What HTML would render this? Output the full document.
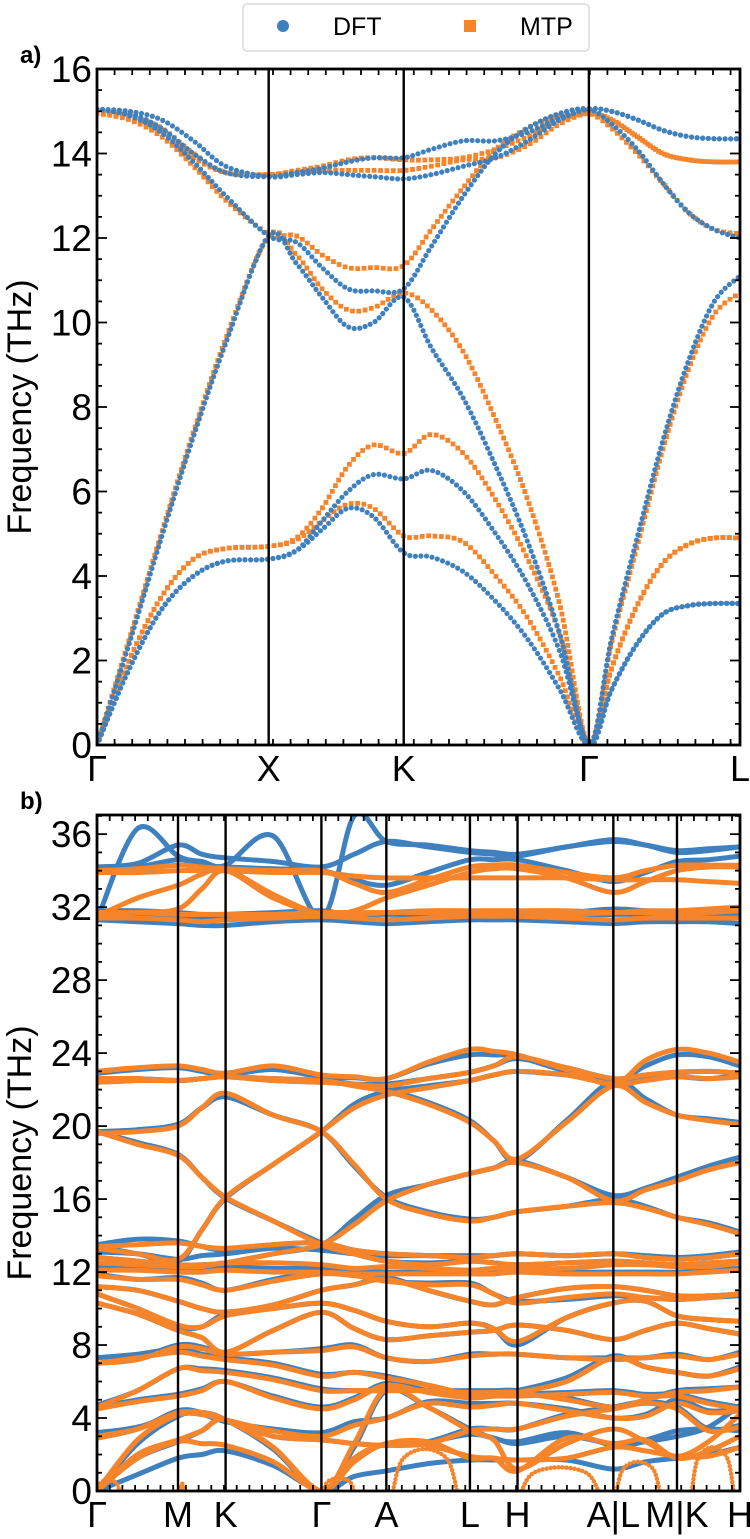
<!DOCTYPE html>
<html><head><meta charset="utf-8">
<style>
html,body{margin:0;padding:0;background:#fff;}
svg{display:block;font-family:"Liberation Sans",Arial,sans-serif;}
</style></head>
<body>
<svg id="chart" width="750" height="1539" viewBox="0 0 750 1539" xmlns="http://www.w3.org/2000/svg">
  <g>
    <rect x="243" y="4" width="346" height="47" rx="4" fill="#fff" stroke="#d0d0d0" stroke-width="1.2"/>
    <circle cx="283" cy="26" r="6" fill="#3f80bf"/>
    <text x="333" y="35" font-size="25">DFT</text>
    <rect x="464" y="20" width="12" height="12" fill="#f5842a"/>
    <text x="520" y="35" font-size="25">MTP</text>
  </g>
  <g id="panelA"></g>
  <g id="panelB"></g>
</svg>
<script>
// ---------- Panel a data ----------
const kA = [0,.05,.1,.15,.2,.267, .31,.35,.39,.43,.477, .52,.57,.62,.67,.72,.765, .8,.84,.88,.92,.96,1];
const labelsA = ["Γ","X","K","Γ","L"];
const labelPosA = [0,.267,.477,.765,1];
const yTicksA = [0,2,4,6,8,10,12,14,16];
const dftA = [
 [0,1.8,3.2,4.0,4.35,4.4, 4.6,5.1,5.6,5.4,4.55, 4.45,4.1,3.4,2.5,1.3,0, 1.3,2.4,3.1,3.3,3.35,3.35],
 [0,1.8,3.2,4.0,4.35,4.4, 4.6,5.3,6.0,6.4,6.3, 6.5,6.0,5.0,3.8,2.2,0, 1.3,2.4,3.1,3.3,3.35,3.35],
 [0,2.4,4.9,7.3,9.5,12.05, 11.4,10.6,9.9,10.0,10.6, 9.4,8.2,6.6,4.8,2.6,0, 2.5,4.9,7.2,9.1,10.5,11.1],
 [15.05,14.9,14.5,13.8,13.0,12.05, 11.9,11.3,10.8,10.75,10.8, 11.8,13.0,14.0,14.6,14.95,15.05, 14.7,14.1,13.3,12.6,12.2,12.0],
 [15.05,15.0,14.8,14.3,13.7,13.45, 13.5,13.55,13.5,13.45,13.4, 13.5,13.7,13.9,14.3,14.8,15.05, 15.0,14.8,14.55,14.4,14.35,14.35],
 [15.05,14.95,14.6,14.0,13.55,13.45, 13.55,13.65,13.8,13.9,13.9, 14.1,14.3,14.3,14.5,14.85,15.05, 15.0,14.8,14.55,14.4,14.35,14.35]
];
const mtpA = [
 [0,2.0,3.5,4.4,4.65,4.7, 4.85,5.3,5.7,5.6,4.95, 4.95,4.8,4.0,3.0,1.6,0, 1.8,3.3,4.3,4.75,4.9,4.9],
 [0,2.0,3.5,4.4,4.65,4.7, 4.9,5.6,6.6,7.1,6.9, 7.35,6.9,5.8,4.4,2.6,0, 1.8,3.3,4.3,4.75,4.9,4.9],
 [0,2.5,5.0,7.4,9.6,12.05, 11.6,10.8,10.3,10.35,10.7, 10.3,9.3,7.7,5.8,3.3,0, 2.4,4.7,7.0,8.9,10.2,10.7],
 [14.95,14.8,14.4,13.7,12.9,12.1, 12.05,11.6,11.3,11.3,11.35, 12.2,13.2,14.1,14.6,14.9,14.95, 14.6,14.0,13.3,12.6,12.2,12.1],
 [14.95,14.9,14.6,14.0,13.55,13.5, 13.55,13.6,13.6,13.6,13.6, 13.7,13.85,13.9,14.2,14.7,14.95, 14.8,14.4,14.0,13.85,13.8,13.8],
 [14.95,14.85,14.5,13.9,13.55,13.5, 13.6,13.7,13.85,13.9,13.85, 13.85,13.9,14.1,14.4,14.8,14.95, 14.8,14.4,14.0,13.85,13.8,13.8]
];

// ---------- Panel b data ----------
const kB = [0,.063,.126,.163,.2,.274,.349,.40,.45,.515,.58,.617,.654,.73,.803,.853,.902,.951,1];
const labelsB = ["Γ","M","K","Γ","A","L","H","A|L","M|K","H"];
const labelPosB = [0,.126,.2,.349,.45,.58,.654,.803,.902,1];
const yTicksB = [0,4,8,12,16,20,24,28,32,36];
const dftB = [
 [31.3,31.2,31.1,31.0,31.0,31.2,31.3,31.2,31.1,31.2,31.3,31.3,31.3,31.2,31.1,31.2,31.2,31.2,31.1],
 [31.6,31.6,31.5,31.4,31.4,31.5,31.6,31.6,31.6,31.6,31.5,31.5,31.5,31.5,31.6,31.6,31.5,31.5,31.6],
 [31.8,31.8,31.7,31.6,31.6,31.7,31.8,31.5,31.3,31.5,31.6,31.6,31.6,31.7,31.9,31.8,31.7,31.8,31.9],
 [31.3,36.3,34.8,34.5,34.3,35.9,31.4,37.0,35.6,35.4,35.1,35.0,34.9,35.3,35.7,35.4,35.0,35.1,35.3],
 [34.2,34.4,35.4,34.9,34.7,34.5,34.2,34.9,35.6,35.3,35.0,34.9,34.8,35.3,35.6,35.4,35.1,35.2,35.3],
 [34.0,34.2,34.6,34.3,34.2,34.1,34.0,33.5,33.2,33.9,34.6,34.6,34.6,34.0,33.4,33.9,34.5,34.6,34.8],
 [22.9,23.1,23.2,23.0,22.8,23.1,22.7,22.65,22.6,23.4,23.9,23.9,23.8,23.0,22.4,23.3,23.9,23.8,23.3],
 [22.4,22.5,22.5,22.6,22.7,22.5,22.4,22.3,22.3,22.6,22.95,23.3,23.7,23.2,22.6,22.8,22.95,23.0,22.9],
 [22.6,22.6,22.5,22.6,22.7,22.6,22.5,22.3,22.0,21.3,20.3,19.2,18.1,20.3,22.5,21.5,20.6,20.4,20.2],
 [19.7,19.8,20.1,21.0,21.6,20.6,19.7,17.8,16.1,15.3,14.9,15.0,15.3,15.6,16.0,15.6,15.0,14.7,14.2],
 [19.7,19.1,18.45,17.2,16.05,14.8,13.6,13.0,12.6,12.5,12.6,12.5,12.4,12.5,12.6,12.5,12.4,12.5,12.6],
 [13.4,13.0,12.6,14.3,16.05,17.9,19.7,21.2,21.9,22.2,22.5,22.8,23.0,22.8,22.5,22.6,22.7,22.6,22.8],
 [12.8,12.6,12.4,12.4,12.5,13.0,13.5,14.9,16.2,16.8,17.4,17.7,18.1,17.2,16.2,16.6,17.2,17.8,18.3],
 [13.5,13.8,13.7,13.4,13.2,13.5,13.6,13.2,13.0,12.9,12.8,12.9,13.0,12.9,13.0,12.8,12.7,12.8,13.0],
 [13.1,13.0,12.7,12.9,13.0,13.3,13.2,13.0,12.9,12.9,12.9,12.9,13.0,12.9,13.0,12.9,12.8,12.9,13.1],
 [12.3,12.3,12.2,12.2,12.3,12.2,12.2,12.1,12.0,12.0,12.0,12.0,12.1,12.0,12.0,12.0,12.0,12.1,12.2],
 [11.9,11.6,11.7,11.4,11.0,11.6,12.0,11.9,11.5,11.4,11.4,10.8,10.4,10.5,10.7,10.6,10.5,10.6,10.7],
 [11.2,11.0,10.4,10.0,9.8,10.2,11.0,11.3,11.7,11.0,10.4,10.2,10.6,11.1,11.2,11.0,10.7,10.7,10.8],
 [10.8,10.0,9.0,9.0,9.7,10.0,10.3,9.9,9.3,9.0,9.2,8.9,8.0,9.5,10.3,10.4,9.6,9.4,9.3],
 [10.3,9.7,8.8,8.4,7.6,8.8,9.8,8.9,8.3,8.5,8.7,8.8,9.1,8.8,8.3,8.8,9.2,8.9,8.6],
 [7.0,7.3,8.0,7.9,7.5,7.6,7.8,8.0,7.3,7.1,7.5,7.5,7.5,7.3,7.3,7.3,7.5,7.2,7.6],
 [7.3,7.5,7.8,7.5,7.3,7.0,6.4,6.5,6.3,5.8,5.3,5.3,5.5,6.2,7.4,6.8,6.5,6.3,6.8],
 [4.7,5.5,6.7,6.7,6.6,6.2,5.6,5.5,5.5,5.5,5.5,5.5,5.5,5.1,4.6,5.0,5.5,5.6,5.7],
 [4.6,5.0,5.3,5.6,6.0,5.2,4.6,5.1,5.9,5.5,5.2,5.2,5.3,5.4,5.5,5.3,5.3,4.9,4.6],
 [3.2,3.5,4.2,4.2,3.8,3.4,3.2,3.8,4.0,4.9,4.8,4.8,4.8,4.5,4.0,4.2,5.0,4.4,4.5],
 [2.9,3.4,4.4,4.3,3.9,3.0,2.8,2.6,2.5,2.7,3.4,3.4,3.4,4.2,4.6,4.9,4.6,3.4,3.6],
 [0,2.6,4.1,4.3,3.9,2.3,0,2.4,5.5,4.6,3.4,2.9,2.7,3.2,2.5,2.7,3.0,3.5,4.7],
 [0,1.8,2.7,3.3,3.9,2.3,0,1.7,2.6,2.7,3.1,2.9,2.6,3.0,2.6,2.8,3.3,3.4,3.3],
 [0,0.9,1.8,2.0,2.2,1.4,0,0.8,1.1,1.5,1.7,1.7,1.7,1.7,1.2,1.6,1.8,2.0,2.4]
];
const mtpB = [
 [31.4,31.4,31.3,31.2,31.3,31.4,31.5,31.4,31.3,31.4,31.5,31.5,31.5,31.4,31.3,31.4,31.4,31.4,31.4],
 [31.7,31.7,31.6,31.6,31.6,31.6,31.7,31.7,31.7,31.7,31.6,31.6,31.6,31.6,31.7,31.7,31.6,31.7,31.8],
 [34.0,34.1,34.3,34.2,34.1,34.0,34.0,33.3,32.8,33.5,34.2,34.3,34.3,33.9,33.6,34.0,34.3,34.3,34.3],
 [33.9,33.9,34.0,34.0,34.0,33.9,33.9,33.7,33.6,33.6,33.6,33.6,33.6,33.6,33.5,33.5,33.5,33.4,33.3],
 [31.5,32.5,33.2,33.8,34.1,32.7,31.6,31.8,32.5,33.2,33.9,34.1,34.1,33.6,32.8,33.4,34.0,34.2,34.2],
 [31.6,31.7,31.9,33.0,34.0,32.5,31.6,31.6,31.7,31.8,31.8,31.8,31.8,31.8,31.7,31.8,31.8,31.9,32.0],
 [23.0,23.2,23.3,23.1,22.9,23.3,22.8,22.7,22.6,23.5,24.2,24.1,23.9,23.1,22.3,23.6,24.2,24.0,23.5],
 [22.4,22.5,22.5,22.6,22.7,22.5,22.4,22.3,22.2,22.6,22.95,23.3,23.8,23.2,22.6,22.8,22.95,23.0,22.9],
 [22.6,22.6,22.5,22.6,22.7,22.6,22.5,22.2,21.9,21.2,20.2,19.2,18.2,20.2,22.2,21.3,20.6,20.3,20.1],
 [19.6,19.7,20.0,21.0,21.8,20.6,19.7,17.9,16.0,15.2,14.8,15.0,15.3,15.6,15.8,15.5,15.0,14.6,14.1],
 [19.7,19.0,18.4,17.2,16.1,14.8,13.5,13.0,12.6,12.4,12.6,12.5,12.4,12.5,12.6,12.5,12.4,12.5,12.6],
 [13.3,13.0,12.7,14.3,16.1,17.9,19.7,21.0,21.7,22.1,22.5,22.8,23.0,22.8,22.3,22.5,22.7,22.6,22.7],
 [12.8,12.6,12.4,12.4,12.5,13.0,13.5,14.6,15.9,16.8,17.4,17.7,18.0,17.2,15.9,16.5,17.0,17.6,18.0],
 [13.4,13.5,13.6,13.4,13.3,13.5,13.6,13.2,13.0,12.9,12.8,12.9,13.0,12.9,13.0,12.8,12.7,12.8,13.0],
 [12.5,12.4,12.3,12.3,12.5,12.5,12.4,12.2,12.3,12.2,12.1,12.2,12.2,12.2,12.4,12.4,12.3,12.3,12.5],
 [12.1,12.1,12.0,12.0,12.1,12.0,12.0,11.9,11.9,11.9,11.9,11.9,12.0,11.9,11.9,11.9,11.9,12.0,12.1],
 [11.8,11.6,11.6,11.3,11.0,11.5,11.9,11.8,11.5,11.3,11.3,10.8,10.3,10.6,10.8,10.6,10.5,10.6,10.8],
 [11.2,11.0,10.4,10.0,9.8,10.2,11.0,11.3,11.6,11.0,10.4,10.2,10.6,11.1,11.2,11.0,10.7,10.7,10.8],
 [10.8,10.0,9.1,9.0,9.6,10.0,10.3,9.9,9.3,9.0,9.2,8.9,8.2,9.5,10.3,10.4,9.6,9.4,9.3],
 [10.3,9.7,8.8,8.4,7.6,8.8,9.8,8.9,8.3,8.5,8.7,8.8,9.1,8.8,8.3,8.8,9.2,8.9,8.6],
 [7.0,7.2,7.9,7.8,7.5,7.6,7.7,7.9,7.3,7.1,7.4,7.5,7.5,7.3,7.2,7.3,7.4,7.2,7.5],
 [7.0,7.3,7.6,7.4,7.2,6.9,6.3,6.5,6.2,5.8,5.3,5.3,5.4,6.0,7.3,6.8,6.5,6.3,6.7],
 [4.6,5.5,6.7,6.6,6.5,6.1,5.5,5.5,5.5,5.5,5.4,5.4,5.4,5.0,4.6,5.0,5.4,5.5,5.7],
 [4.5,4.9,5.2,5.5,6.0,5.1,4.5,5.0,5.8,5.4,5.1,5.2,5.2,5.3,5.4,5.2,5.2,4.8,4.5],
 [3.0,3.4,4.2,4.2,3.9,3.3,3.0,3.6,4.0,4.8,4.6,4.7,4.8,4.4,4.0,4.1,4.8,4.3,4.4],
 [2.9,3.4,4.3,4.2,3.9,3.0,2.8,2.6,2.5,2.6,3.3,3.4,3.4,4.1,4.5,4.8,4.5,3.3,3.5],
 [0,2.8,4.2,4.3,3.9,2.4,0,2.6,5.6,4.6,3.3,2.8,1.2,2.6,3.4,2.7,1.9,2.7,4.2],
 [0,2.0,2.8,3.3,3.9,2.4,0,1.8,2.6,2.7,1.8,1.8,1.1,2.9,2.6,2.8,1.8,2.2,3.0],
 [0,1.8,2.7,2.6,2.5,1.6,0,1.6,2.6,2.5,1.9,1.8,1.7,1.8,2.4,2.2,1.9,1.9,2.4]
];
// small orange soft-mode arcs: start k, end k, peak frequency
const arcStart = [0.0, .13, .352, .46, .66, .808, .925];
const arcEnd   = [.035, .135, .40, .56, .78, .875, .99];
const arcPeak  = [0.6, 0.4, 0.7, 2.3, 1.3, 1.6, 2.4];

const NS = "http://www.w3.org/2000/svg";
function el(tag, attrs, parent){ const e=document.createElementNS(NS,tag); for(const k in attrs) e.setAttribute(k,attrs[k]); parent.appendChild(e); return e; }

function spline(pts){
  let d = "M"+pts[0][0].toFixed(1)+","+pts[0][1].toFixed(1);
  for(let i=0;i<pts.length-1;i++){
    const p0=pts[Math.max(0,i-1)], p1=pts[i], p2=pts[i+1], p3=pts[Math.min(pts.length-1,i+2)];
    const c1x=p1[0]+(p2[0]-p0[0])/6, c1y=p1[1]+(p2[1]-p0[1])/6;
    const c2x=p2[0]-(p3[0]-p1[0])/6, c2y=p2[1]-(p3[1]-p1[1])/6;
    d+=" C"+c1x.toFixed(1)+","+c1y.toFixed(1)+" "+c2x.toFixed(1)+","+c2y.toFixed(1)+" "+p2[0].toFixed(1)+","+p2[1].toFixed(1);
  }
  return d;
}

function drawPanel(g, cfg){
  const X = k => cfg.left + (cfg.right-cfg.left)*k;
  const Y = v => cfg.bottom - (v - 0)/(cfg.ymax)*(cfg.bottom-cfg.top);
  const clipId = cfg.id+"clip";
  const defs = el("defs",{},g);
  const cp = el("clipPath",{id:clipId},defs);
  el("rect",{x:cfg.left,y:cfg.top,width:cfg.right-cfg.left,height:cfg.bottom-cfg.top},cp);
  const bands = el("g",{"clip-path":"url(#"+clipId+")"},g);
  
  
  function drawSeries(series, color, style, name){
    series.forEach((vals,bi)=>{
      const pts = vals.map((v,i)=>[X(cfg.k[i]), Y(v)]);
      const p = el("path",{d:spline(pts),fill:"none",stroke:color},bands);
      if(style==="dot"){ p.setAttribute("stroke-width","5.2"); p.setAttribute("stroke-linecap","round"); p.setAttribute("stroke-dasharray","0 5.6"); }
      else if(style==="sq"){ p.setAttribute("stroke-width","4.8"); p.setAttribute("stroke-linecap","square"); p.setAttribute("stroke-dasharray","0 6.4"); }
      else { p.setAttribute("stroke-width","5"); p.setAttribute("stroke-linecap","round"); p.setAttribute("stroke-linejoin","round"); }
      
      
    });
  }
  if(cfg.dots){
    drawSeries(cfg.mtp, "#f5842a", "sq", cfg.id+"-mtp");
    drawSeries(cfg.dft, "#3f80bf", "dot", cfg.id+"-dft");
  } else {
    drawSeries(cfg.dft, "#3f80bf", "line", cfg.id+"-dft");
    drawSeries(cfg.mtp, "#f5842a", "line", cfg.id+"-mtp");
    if(cfg.arcs){
      arcStart.forEach((s,i)=>{
        const e=arcEnd[i], pk=arcPeak[i], m=(s+e)/2;
        const pts=[[X(s),Y(0)],[X(s+(e-s)*0.15),Y(pk*0.75)],[X(m),Y(pk)],[X(e-(e-s)*0.15),Y(pk*0.75)],[X(e),Y(0)]];
        const p = el("path",{d:spline(pts),fill:"none",stroke:"#f5842a","stroke-width":"4.5","stroke-linecap":"round","stroke-dasharray":"0 4"},bands);
        
        
      });
    }
  }
  cfg.labelPos.forEach((k,i)=>{
    if(k>0 && k<1){
      const l = el("line",{x1:X(k),x2:X(k),y1:cfg.top,y2:cfg.bottom,stroke:"#000","stroke-width":"2.4"},g);
      
      
    }
    const t = el("text",{x:X(k),y:cfg.bottom+cfg.labOff,"font-size":"36","text-anchor":"middle"},g);
    t.textContent = cfg.labels[i];
    
    
  });
  const tg = el("g",{stroke:"#000","stroke-width":"1.8"},g);
  
  
  for(let x=cfg.left+cfg.xtick; x<cfg.right-2; x+=cfg.xtick){
    el("line",{x1:x,x2:x,y1:cfg.top,y2:cfg.top+6},tg);
    el("line",{x1:x,x2:x,y1:cfg.bottom,y2:cfg.bottom-6},tg);
  }
  for(let v=0; v<=cfg.ymax+0.001; v+=cfg.minor){
    const y=Y(v); const major = Math.abs(v/cfg.major - Math.round(v/cfg.major))<1e-6;
    const len = major?10:5;
    el("line",{x1:cfg.left,x2:cfg.left+len,y1:y,y2:y},tg);
    el("line",{x1:cfg.right,x2:cfg.right-len,y1:y,y2:y},tg);
  }
  cfg.yTicks.forEach(v=>{
    const t = el("text",{x:cfg.left-5,y:Y(v)+13,"font-size":"37","text-anchor":"end"},g);
    t.textContent = String(v);
    
    
  });
  const fr = el("rect",{x:cfg.left,y:cfg.top,width:cfg.right-cfg.left,height:cfg.bottom-cfg.top,fill:"none",stroke:"#000","stroke-width":"2.8"},g);
  
  
  const yt = el("text",{x:0,y:0,"font-size":"34","text-anchor":"middle",transform:"translate(31,"+((cfg.top+cfg.bottom)/2)+") rotate(-90)"},g);
  yt.textContent = "Frequency (THz)";
  
  
  const pl = el("text",{x:20,y:cfg.top-6,"font-size":"24","font-weight":"bold"},g);
  pl.textContent = cfg.tag;
  
  
}

drawPanel(document.getElementById("panelA"), {id:"panel-a", tag:"a)", left:97, right:740, top:69, bottom:745, ymax:16,
  k:kA, dft:dftA, mtp:mtpA, labels:labelsA, labelPos:labelPosA, yTicks:yTicksA, major:2, minor:0.5, xtick:17.6, labOff:36, dots:true});
drawPanel(document.getElementById("panelB"), {id:"panel-b", tag:"b)", left:97, right:740, top:815, bottom:1491, ymax:37.05,
  k:kB, dft:dftB, mtp:mtpB, labels:labelsB, labelPos:labelPosB, yTicks:yTicksB, major:4, minor:1, xtick:12.7, labOff:36, dots:false, arcs:true});
</script>
</body></html>
